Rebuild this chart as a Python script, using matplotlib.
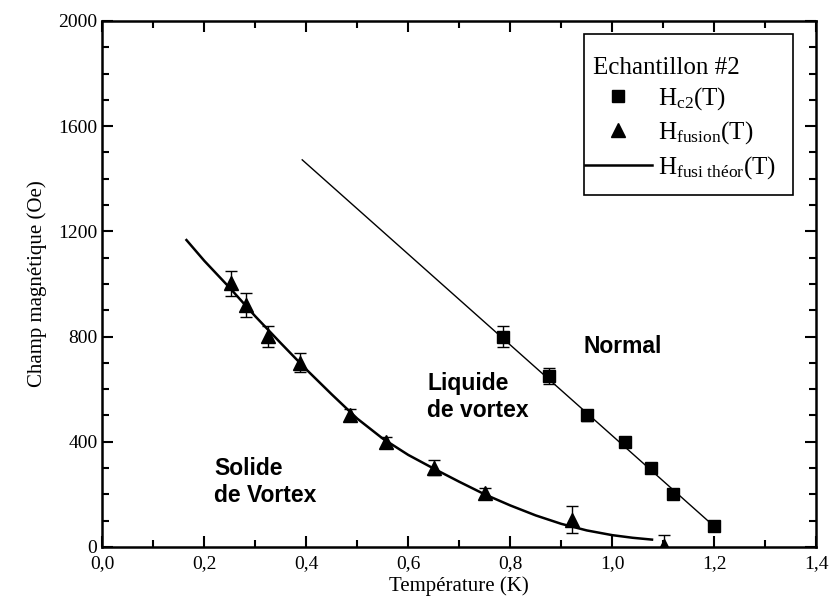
import matplotlib.pyplot as plt
from matplotlib.patches import Rectangle
from matplotlib.ticker import MultipleLocator, FuncFormatter

plt.rcParams['font.family'] = ['Liberation Serif', 'DejaVu Serif']
plt.rcParams['mathtext.fontset'] = 'custom'
plt.rcParams['mathtext.rm'] = 'Liberation Serif'
plt.rcParams['mathtext.it'] = 'Liberation Serif:italic'

# Hc2(T) points (squares)
t_c2 = [0.785, 0.876, 0.950, 1.025, 1.076, 1.119, 1.199]
h_c2 = [800, 650, 500, 400, 300, 200, 80]
err_c2 = [40, 32, 20, 15, 10, 8, 6]

# linear fit drawn through the Hc2 points
t_c2_fit = [0.392, 1.199]
h_c2_fit = [1472, 80]

# Hfusion(T) points (triangles)
t_fus = [0.252, 0.282, 0.325, 0.388, 0.486, 0.556, 0.650, 0.750, 0.922, 1.101]
h_fus = [1003, 920, 801, 701, 502, 398, 302, 205, 104, 2]
err_fus = [48, 47, 40, 35, 22, 21, 28, 19, 50, 42]

# theoretical melting line
t_theo = [0.165, 0.20, 0.25, 0.30, 0.35, 0.40, 0.45, 0.50, 0.55, 0.60,
          0.65, 0.70, 0.75, 0.80, 0.85, 0.90, 0.95, 1.00, 1.04, 1.078]
h_theo = [1167, 1088, 985, 877, 775, 675, 580, 488, 412, 350,
          298, 248, 200, 158, 120, 88, 63, 45, 35, 28]

fig = plt.figure(figsize=(8.32, 6.15), dpi=100)
ax = fig.add_axes([0.123, 0.1106, 0.858, 0.8553])

ax.errorbar(t_c2, h_c2, yerr=err_c2, fmt='none', ecolor='black', elinewidth=1, capsize=4, capthick=1)
ax.errorbar(t_fus, h_fus, yerr=err_fus, fmt='none', ecolor='black', elinewidth=1, capsize=4, capthick=1)
ax.plot(t_c2_fit, h_c2_fit, color='black', lw=1)
ax.plot(t_c2, h_c2, ls='none', marker='s', ms=8, color='black', label=r'$\mathrm{H}_{\mathrm{c2}}$(T)')
ax.plot(t_fus, h_fus, ls='none', marker='^', ms=10, color='black', label=r'$\mathrm{H}_{\mathrm{fusion}}$(T)')
ax.plot(t_theo, h_theo, color='black', lw=1.8, label=r'$\mathrm{H}_{\mathrm{fusi\ théor}}$(T)')

ax.set_xlim(0, 1.4)
ax.set_ylim(0, 2000)
ax.xaxis.set_major_locator(MultipleLocator(0.2))
ax.xaxis.set_minor_locator(MultipleLocator(0.1))
ax.yaxis.set_major_locator(MultipleLocator(400))
ax.yaxis.set_minor_locator(MultipleLocator(100))
ax.xaxis.set_major_formatter(FuncFormatter(lambda v, p: f'{v:.1f}'.replace('.', ',')))
ax.tick_params(which='both', direction='in', top=True, right=True, width=1.5, labelsize=14)
ax.tick_params(axis='x', pad=6)
ax.tick_params(which='major', length=8)
ax.tick_params(which='minor', length=5)
for s in ax.spines.values():
    s.set_linewidth(1.8)

ax.set_xlabel('Température (K)', fontsize=15, labelpad=3)
ax.set_ylabel('Champ magnétique (Oe)', fontsize=15, labelpad=8)

region_font = ['Liberation Sans Narrow', 'Liberation Sans']
ax.text(0.944, 762, 'Normal', family=region_font, weight='bold', fontsize=16.5, ha='left', va='center')
ax.text(0.637, 570, 'Liquide\nde vortex', family=region_font, weight='bold', fontsize=16.5,
        ha='left', va='center', linespacing=1.25)
ax.text(0.219, 247, 'Solide\nde Vortex', family=region_font, weight='bold', fontsize=16.5,
        ha='left', va='center', linespacing=1.25)

# legend: frame and title drawn separately so the line handle can touch the frame
ax.add_patch(Rectangle((0.675, 0.669), 0.293, 0.306, transform=ax.transAxes,
                       facecolor='white', edgecolor='black', lw=1.2, zorder=4))
ax.text(0.688, 0.910, 'Echantillon #2', transform=ax.transAxes, fontsize=18,
        ha='left', va='center', zorder=5)
leg = ax.legend(loc='upper left', bbox_to_anchor=(0.676, 0.878), borderaxespad=0,
                fontsize=18, frameon=False, handlelength=2.68, handletextpad=0.25,
                labelspacing=0.3, borderpad=0)
leg.set_zorder(6)

fig.savefig('out.png', dpi=100)
